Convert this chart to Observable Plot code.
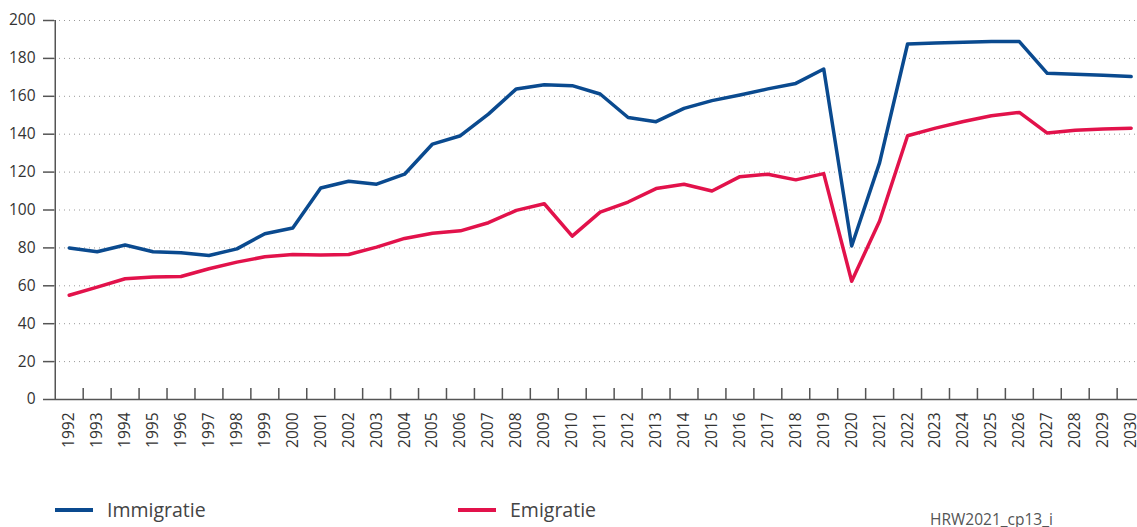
<!DOCTYPE html>
<html>
<head>
<meta charset="utf-8">
<script src="https://cdn.jsdelivr.net/npm/d3@7"></script>
<script src="https://cdn.jsdelivr.net/npm/@observablehq/plot@0.6"></script>
<style>
  html, body { margin: 0; padding: 0; background: #fff; }
  #wrap { position: relative; width: 1137px; height: 527px; overflow: hidden; font-family: "Open Sans", sans-serif; }
  .leg { position: absolute; display: flex; align-items: center; font-size: 19.5px; color: #444; font-family: "Open Sans", sans-serif; line-height: 24px; }
  .sw { display: inline-block; width: 38px; height: 4px; margin-right: 14px; }
  #caption { position: absolute; left: 930px; top: 508px; font-size: 15.5px; color: #555; }
</style>
</head>
<body>
<div id="wrap">
  <div id="chart"></div>
  <div class="leg" style="left:55px; top:498px;"><span class="sw" style="background:#0a4a8f"></span>Immigratie</div>
  <div class="leg" style="left:458px; top:498px;"><span class="sw" style="background:#e2124b"></span>Emigratie</div>
  <div id="caption">HRW2021_cp13_i</div>
</div>
<script>
const years = d3.range(1992, 2031);
const immigratie = [80, 78, 81.5, 78, 77.5, 76, 79.5, 87.5, 90.5, 111.6, 115.2, 113.6, 118.9, 134.8, 139.2, 150.6, 163.9, 166.1, 165.6, 161.2, 148.8, 146.6, 153.6, 157.7, 160.7, 163.9, 166.8, 174.4, 81, 125, 187.6, 188.1, 188.5, 188.9, 188.9, 172.1, 171.6, 171.1, 170.4];
const emigratie = [55, 59.3, 63.7, 64.6, 64.9, 69, 72.5, 75.3, 76.5, 76.2, 76.5, 80.4, 85, 87.7, 89, 93.3, 99.8, 103.3, 86.2, 98.9, 104.2, 111.3, 113.6, 110, 117.6, 118.9, 115.9, 119.2, 62.4, 94.2, 139.2, 143.2, 146.7, 149.7, 151.5, 140.6, 142.1, 142.8, 143.2];
const yTicks = [0, 20, 40, 60, 80, 100, 120, 140, 160, 180, 200];
const seriesNames = ["Immigratie", "Emigratie"];
const colors = ["#0a4a8f", "#e2124b"];

const data = [];
years.forEach((y, i) => {
  data.push({year: y, value: immigratie[i], series: seriesNames[0]});
  data.push({year: y, value: emigratie[i], series: seriesNames[1]});
});
const boundaries = years.slice(0, -1).map(y => y + 0.5);

const chart = Plot.plot({
  width: 1137,
  height: 454,
  marginTop: 20,
  marginBottom: 55,
  marginLeft: 54,
  marginRight: 0,
  style: {fontFamily: "Open Sans, sans-serif", fontSize: "15.5px", color: "#333", overflow: "visible"},
  x: {domain: [1991.5, 2030.5], range: [54.75, 1144.6]},
  y: {domain: [0, 200], range: [399, 20]},
  color: {domain: seriesNames, range: colors},
  marks: [
    Plot.ruleY(yTicks.filter(d => d > 0), {stroke: "#999", strokeDasharray: "1,4", strokeWidth: 1}),
    Plot.axisY(yTicks, {tickSize: 11, tickPadding: 8, label: null, stroke: "#555", fill: "#333", strokeWidth: 1.5}),
    Plot.axisX(years, {tickSize: 0, tickPadding: 13, tickRotate: -90, tickFormat: d => String(d), label: null, fill: "#333"}),
    Plot.ruleX(boundaries, {y1: 0, y2: 0, insetTop: -11, stroke: "#555", strokeWidth: 1.5}),
    Plot.ruleY([0], {stroke: "#555", strokeWidth: 1.5}),
    Plot.ruleX([1991.5], {y1: 0, y2: 200, stroke: "#555", strokeWidth: 1.5}),
    Plot.line(data, {x: "year", y: "value", z: "series", stroke: "series", strokeWidth: 3.5, strokeLinejoin: "round"})
  ]
});
document.getElementById("chart").appendChild(chart);
</script>
</body>
</html>
